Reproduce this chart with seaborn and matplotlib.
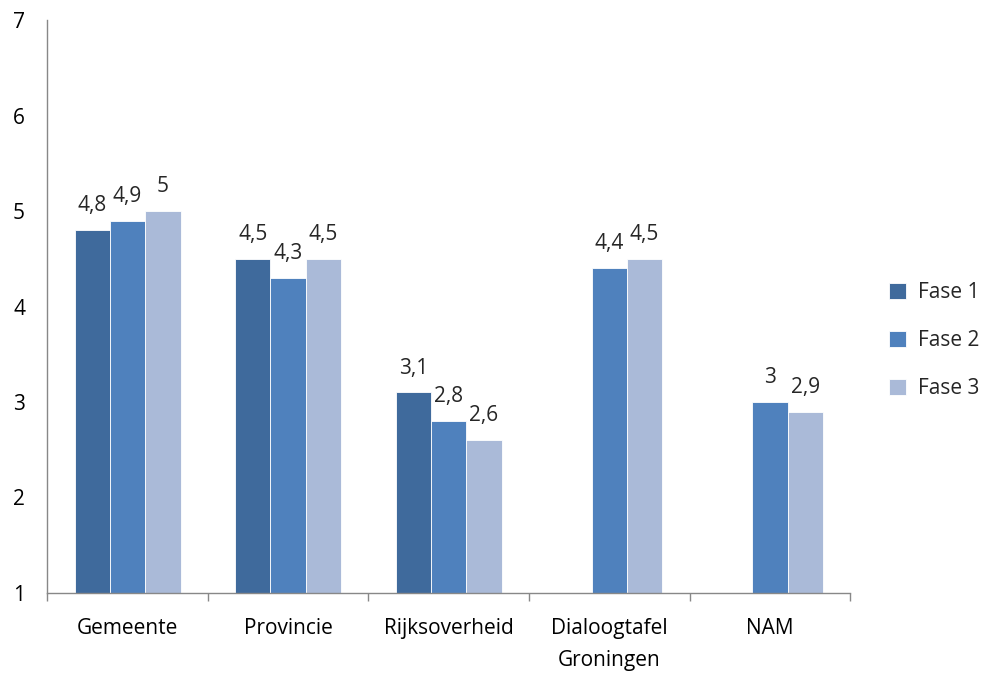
import pandas as pd
import numpy as np
import seaborn as sns
import matplotlib.pyplot as plt

categories = ["Gemeente", "Provincie", "Rijksoverheid", "Dialoogtafel\nGroningen", "NAM"]
phases = ["Fase 1", "Fase 2", "Fase 3"]
fase1 = [4.8, 4.5, 3.1, np.nan, np.nan]
fase2 = [4.9, 4.3, 2.8, 4.4, 3.0]
fase3 = [5.0, 4.5, 2.6, 4.5, 2.9]

df = pd.DataFrame({"Categorie": categories * 3,
                   "Fase": [p for p in phases for _ in categories],
                   "Score": fase1 + fase2 + fase3})

sns.set_theme(style="white")
plt.rcParams['font.family'] = ['Open Sans', 'DejaVu Sans']
palette = ["#3F6A9C", "#4F81BD", "#AABAD8"]
fs = 15

fig = plt.figure(figsize=(9.84, 6.73), dpi=100)
ax = fig.add_axes([0.048, 0.119, 0.816, 0.851])
sns.barplot(data=df, x="Categorie", y="Score", hue="Fase", palette=palette,
            saturation=1, width=0.66, edgecolor="white", linewidth=0.6, ax=ax)

for cont in ax.containers:
    labels = ["" if np.isnan(v) else f"{v:g}".replace(".", ",") for v in cont.datavalues]
    ax.bar_label(cont, labels=labels, padding=10, fontsize=fs)

ax.set_ylim(1, 7)
ax.set_xlim(-0.5, len(categories) - 0.5)
ax.set_yticks(range(1, 8))
ax.set_xlabel("")
ax.set_ylabel("")
ax.tick_params(axis="both", labelsize=fs, colors="black")
ax.tick_params(axis="y", length=6, width=1, color="#888888", direction="out", pad=10)
ax.tick_params(axis="x", length=0, pad=18)
for t in ax.get_xticklabels():
    t.set_linespacing(1.7)
ax.set_xticks(np.arange(-0.5, len(categories), 1), minor=True)
ax.tick_params(axis="x", which="minor", length=6, width=1, color="#888888", direction="out", bottom=True)
for s in ["top", "right"]:
    ax.spines[s].set_visible(False)
for s in ["left", "bottom"]:
    ax.spines[s].set_color("#888888")
    ax.spines[s].set_linewidth(1)

ax.legend(title=None, frameon=False, fontsize=fs, loc="center left",
          bbox_to_anchor=(1.025, 0.44), handlelength=0.8, handleheight=0.8,
          handletextpad=0.6, labelspacing=1.3)

fig.savefig("out.png", dpi=100)
